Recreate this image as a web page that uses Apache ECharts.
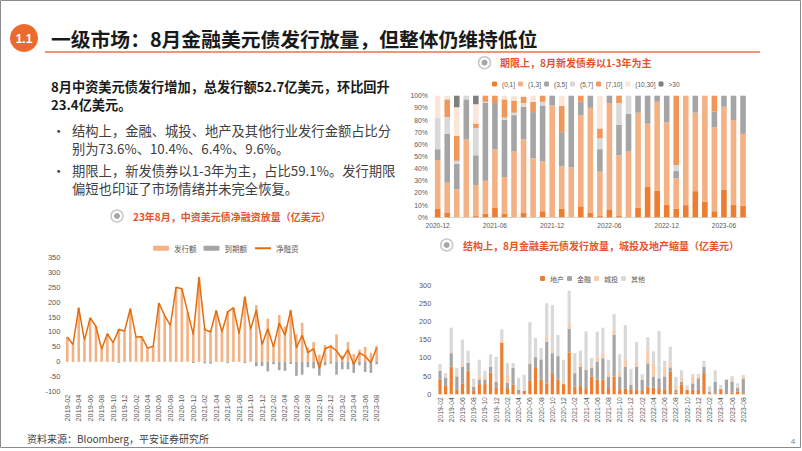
<!DOCTYPE html>
<html><head><meta charset="utf-8">
<script src="https://cdn.jsdelivr.net/npm/echarts@6/dist/echarts.min.js"></script>
<style>html,body{margin:0;padding:0;background:#fff}#c{width:802px;height:451px}</style>
</head><body><div id="c"></div>
<script>
// ---------- data ----------
const months = [];
for (let y = 2019; y <= 2023; y++) for (let m = 1; m <= 12; m++) {
  const s = y + '-' + String(m).padStart(2, '0');
  if (s >= '2019-02' && s <= '2023-08') months.push(s);
}
// left chart (亿美元)
const issueAmt = [83,58,182,72,148,120,43,94,64,111,103,178,84,85,46,53,197,155,124,250,245,166,95,285,113,106,172,100,171,182,95,220,110,190,70,144,55,157,118,174,92,131,48,66,24,56,56,92,22,66,26,41,50,30,53];
const maturityAmt = [0,0,0,0,0,0,0,0,0,-3,0,0,0,0,0,0,0,0,0,0,0,0,-4,0,-5,-6,0,0,-4,0,0,-4,0,-15,-14,-32,-8,-28,-30,-7,-47,-43,-18,-22,-46,-12,-6,-43,-25,-25,-37,-12,-34,-37,-8];
const netAmt = [83,58,181,72,147,119,42,94,64,108,103,178,83,84,46,52,197,155,122,250,245,168,91,283,108,100,172,100,167,181,94,217,109,174,58,111,50,130,89,172,47,89,31,44,-22,44,52,37,8,41,-9,30,19,-3,47];
const leftYTicks = [-100, 350, 50];

// top right: term structure (%), 2020-12 .. 2023-08
const termMonths = months.slice(months.indexOf('2020-12'));
const termNames = ['(0,1]','(1,3]','(3,5]','(5,7]','[7,10]','(10,30]','>30'];
const t01   = [7,4,0,0,1,3,8,3,0,3.5,0,5,0,7,0,9,3.5,1,6,1,0,8,25,22,10.5,7,10,21.5,13,5,22.5,10.5,9.5];
const t13   = [40,24.5,23,64,25.5,27,48,30,54,60.5,48.5,41,92,35,41,75,86.5,36.5,88,50,54,78,52,73,67.5,25,90,64.5,87,69,68.5,69.5,59.1];
const t35   = [9,40,21,33,24.5,64,38,47,30,27,38,46,8,28,59,11,10,18.5,6,25,31,14,23,5,22,6,0,14,0,13,9,20,31.4];
const t57   = [26,14,2.5,3,22.5,1,0,2,2,3,0,3,0,0,0,0,0,9,0,18,15,0,0,0,0,5,0,0,0,0,0,0,0];
const t710  = [0,14.5,20.5,0,3.5,5,6,15,10,5,8.5,5,0,21.5,0,5,0,8,0,6,0,0,0,0,0,57,0,0,0,13,0,0,0];
const t1030 = [18,3,23.5,0,16,0,0,3,4,1,5,0,0,8.5,0,0,0,27,0,0,0,0,0,0,0,0,0,0,0,0,0,0,0];
const t30   = [0,0,9.5,0,7,0,0,0,0,0,0,0,0,0,0,0,0,0,0,0,0,0,0,0,0,0,0,0,0,0,0,0,0];

// bottom right: by sector (亿美元)
const sectorNames = ['地产','金融','城投','其他'];
const realEstate = [41,23,76,12,30,65,9,28,28,60,19,142,17,26,3,10,37,72,40,30,58,41,28,115,21,23,17,49,40,41,17,49,14,15,14,14,9,21,18,17,12,62,5,26,12,12,12,58,3,3,14,0,5,7,3.4];
const finance    = [24,23,37,37,46,22,12,13,13,16,16,0,15,47,9,0,46,30,56,115,55,64,0,65,37,53,50,23,50,58,32,114,35,61,12,62,31,64,31,27,37,12,7,9,0,18,32,18,5,32,0,40,30,10,38.8];
const lgfv       = [3,0,3,5,9,3,2,8,9,4,2,8,20,0,0,0,5,0,0,15,12,0,3,15,0,14,5,5,14,14,12,14,13,18,5,14,3,37,36,0,27,16,14,10,0,19,5,3,0,0,0,0,10,4,5.5];
const others     = [15,12,67,18,65,30,20,46,15,30,66,28,34,13,33,44,110,53,31,90,120,58,64,90,55,30,101,23,68,70,34,43,48,96,39,54,12,35,33,130,16,41,22,21,12,7,7,13,14,31,12,1,5,9,5.1];

// ---------- styles ----------
const C_OR = '#ED7D31', C_LOR = '#F4B183', C_GR = '#A5A5A5', C_LGR = '#D9D9D9';
const C_MOR = '#F1975A', C_PALE = '#FBE5D6', C_DGR = '#7F7F7F', C_PEACH = '#F8CBAD';
const FF = '"Noto Sans CJK SC", "Liberation Sans", sans-serif';
const FL = '"Liberation Sans", sans-serif';
const LBL = '#595959';

const chart = echarts.init(document.getElementById('c'), null, {renderer: 'svg', width: 802, height: 451});

function txt(x, y, text, font, fill, align) {
  return {type: 'text', x: x, y: y, silent: true,
    style: {text: text, font: font, fill: fill, align: align || 'left', verticalAlign: 'middle'}};
}
function radio(cx, cy) {
  return [
    {type: 'circle', shape: {cx: cx, cy: cy, r: 6}, style: {fill: '#fff', stroke: '#C8C8C8', lineWidth: 1.5}},
    {type: 'circle', shape: {cx: cx, cy: cy, r: 3}, style: {fill: '#A6A6A6'}}
  ];
}
const SUB = 'bold 10px ' + FF, SUBC = '#E5532B';
const B1 = 'bold 13.2px ' + FF, B2 = '13.3px ' + FF;
const graphics = [
  {type: 'rect', shape: {x: 0.5, y: 0.5, width: 800, height: 447}, style: {fill: 'none', stroke: '#8C8C8C', lineWidth: 1}},
  {type: 'circle', shape: {cx: 24, cy: 38, r: 14}, style: {fill: '#EA6B2D'}},
  txt(24, 38.5, '1.1', 'bold 12px ' + FL, '#fff', 'center'),
  txt(51, 38, '一级市场：8月金融美元债发行放量，但整体仍维持低位', 'bold 19.8px ' + FF, '#1A1A1A'),
  {type: 'line', shape: {x1: 45, y1: 52, x2: 760, y2: 52}, style: {stroke: '#E9734A', lineWidth: 1.5}},
  txt(51, 86, '8月中资美元债发行增加，总发行额52.7亿美元，环比回升', B1, '#1A1A1A'),
  txt(51, 104, '23.4亿美元。', B1, '#1A1A1A'),
  txt(52, 130, '•', B2, '#404040'),
  txt(72, 130, '结构上，金融、城投、地产及其他行业发行金额占比分', B2, '#404040'),
  txt(72, 148, '别为73.6%、10.4%、6.4%、9.6%。', B2, '#404040'),
  txt(52, 170, '•', B2, '#404040'),
  txt(72, 170, '期限上，新发债券以1-3年为主，占比59.1%。发行期限', B2, '#404040'),
  txt(72, 188, '偏短也印证了市场情绪并未完全恢复。', B2, '#404040'),
  ...radio(117, 216),
  txt(133, 216, '23年8月，中资美元债净融资放量（亿美元）', SUB, SUBC),
  ...radio(484.5, 62.7),
  txt(500, 62.7, '期限上，8月新发债券以1-3年为主', SUB, SUBC),
  ...radio(446.7, 245),
  txt(463, 245, '结构上，8月金融美元债发行放量，城投及地产缩量（亿美元）', SUB, SUBC),
  txt(27, 438, '资料来源：Bloomberg，平安证券研究所', '10px ' + FF, '#404040'),
  txt(793, 441, '4', '8px ' + FL, '#7F7F7F', 'center')
];

const axisLblY = (fs) => ({fontSize: fs, color: LBL, fontFamily: FL});

const option = {
  animation: false,
  backgroundColor: '#fff',
  textStyle: {fontFamily: FF},
  grid: [
    {left: 64.4, top: 257.3, width: 315.1, height: 134.4},
    {left: 432.9, top: 95.7, width: 314.9, height: 121.6},
    {left: 437.2, top: 285.1, width: 308.9, height: 109.2}
  ],
  legend: [
    {data: ['发行额', '到期额', {name: '净融资', itemStyle: {opacity: 0}}], left: 148, top: 239.5,
     itemWidth: 16, itemHeight: 5, itemGap: 7,
     textStyle: {fontSize: 7.5, color: LBL, fontFamily: FF}},
    {data: termNames, left: 487, top: 75.5, itemWidth: 5, itemHeight: 5, itemGap: 3,
     textStyle: {fontSize: 6.5, color: LBL, fontFamily: FL}},
    {data: sectorNames, left: 535, top: 270, itemWidth: 5, itemHeight: 5, itemGap: 3,
     textStyle: {fontSize: 7, color: LBL, fontFamily: FF}}
  ],
  xAxis: [
    {type: 'category', gridIndex: 0, data: months, boundaryGap: true,
     axisLine: {show: false}, axisTick: {show: false},
     axisLabel: {rotate: 90, interval: 1, margin: 3, fontSize: 7.3, color: LBL, fontFamily: FL}},
    {type: 'category', gridIndex: 1, data: termMonths, boundaryGap: true,
     axisLine: {show: true, lineStyle: {color: '#D9D9D9'}}, axisTick: {show: false},
     axisLabel: {interval: 5, margin: 5, fontSize: 6.6, color: LBL, fontFamily: FL}},
    {type: 'category', gridIndex: 2, data: months, boundaryGap: true,
     axisLine: {show: false}, axisTick: {show: false},
     axisLabel: {rotate: 90, interval: 1, margin: 3, fontSize: 6.8, color: LBL, fontFamily: FL}}
  ],
  yAxis: [
    {type: 'value', gridIndex: 0, min: leftYTicks[0], max: leftYTicks[1], interval: leftYTicks[2],
     splitLine: {show: false}, axisLine: {show: false}, axisTick: {show: false},
     axisLabel: Object.assign({margin: 4}, axisLblY(7.5))},
    {type: 'value', gridIndex: 1, min: 0, max: 100, interval: 10,
     splitLine: {show: false}, axisLine: {show: false}, axisTick: {show: false},
     axisLabel: Object.assign({margin: 5, formatter: '{value}%'}, axisLblY(6.8))},
    {type: 'value', gridIndex: 2, min: 0, max: 300, interval: 50,
     splitLine: {show: false}, axisLine: {show: false}, axisTick: {show: false},
     axisLabel: Object.assign({margin: 6}, axisLblY(7.3))}
  ],
  series: [
    {name: '发行额', type: 'bar', xAxisIndex: 0, yAxisIndex: 0, data: issueAmt, barWidth: 2.6, barGap: '-100%', itemStyle: {color: C_LOR}},
    {name: '到期额', type: 'bar', xAxisIndex: 0, yAxisIndex: 0, data: maturityAmt, barWidth: 2.6, barGap: '-100%', itemStyle: {color: C_GR}},
    {name: '净融资', type: 'line', xAxisIndex: 0, yAxisIndex: 0, data: netAmt, symbol: 'none', z: 5,
     lineStyle: {color: '#E46C0A', width: 1.5}, itemStyle: {color: '#E46C0A'}},
    ...[[t01, C_OR], [t13, C_LOR], [t35, C_GR], [t57, C_LGR], [t710, C_MOR], [t1030, C_PALE], [t30, C_DGR]].map((d, k) => ({
      name: termNames[k], type: 'bar', stack: 'term', xAxisIndex: 1, yAxisIndex: 1, data: d[0], barWidth: 5.6,
      itemStyle: {color: d[1]}})),
    ...[[realEstate, C_OR], [finance, C_GR], [lgfv, C_PEACH], [others, C_LGR]].map((d, k) => ({
      name: sectorNames[k], type: 'bar', stack: 'sector', xAxisIndex: 2, yAxisIndex: 2, data: d[0], barWidth: 3.2,
      itemStyle: {color: d[1]}}))
  ],
  graphic: graphics
};
chart.setOption(option);
</script></body></html>
